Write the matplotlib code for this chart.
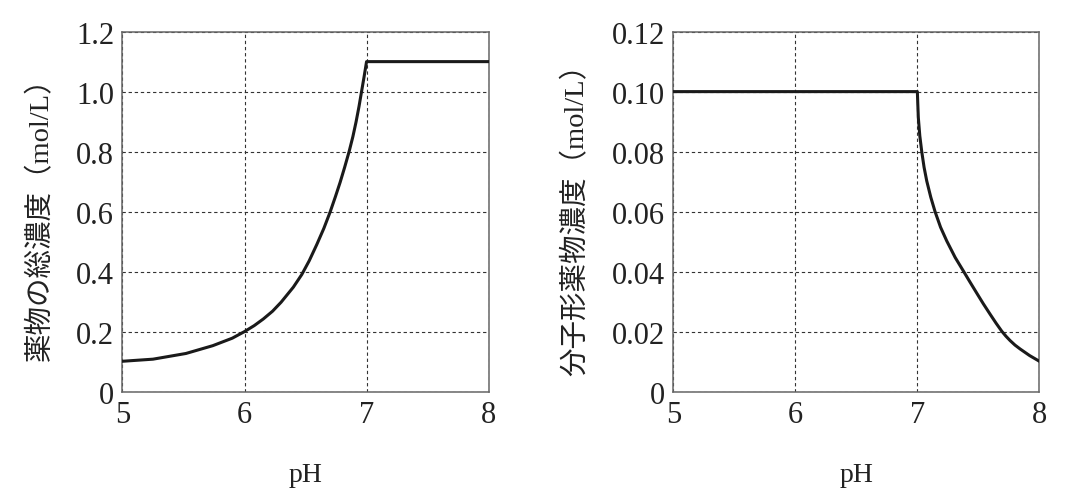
import matplotlib
matplotlib.use("Agg")
import matplotlib.pyplot as plt

# values
ph_ticks = [5, 6, 7, 8]

total_ph = [5.0, 5.25, 5.52, 5.74, 5.9, 6.0, 6.08, 6.154, 6.23, 6.3, 6.4,
            6.469, 6.53, 6.592, 6.65, 6.701, 6.745, 6.783, 6.82, 6.857,
            6.888, 6.914, 6.938, 6.959, 6.98, 7.0, 8.0]
total_conc = [0.101, 0.108, 0.127, 0.153, 0.178, 0.200, 0.220, 0.242, 0.268,
              0.298, 0.348, 0.390, 0.436, 0.490, 0.544, 0.598, 0.650, 0.697,
              0.747, 0.800, 0.850, 0.899, 0.950, 1.000, 1.050, 1.100, 1.100]
total_yticks = [0, 0.2, 0.4, 0.6, 0.8, 1.0, 1.2]
total_ylabels = ["0", "0.2", "0.4", "0.6", "0.8", "1.0", "1.2"]

mol_ph = [5.0, 7.0, 7.004, 7.008, 7.02, 7.036, 7.055, 7.077, 7.11, 7.145,
          7.19, 7.241, 7.31, 7.38, 7.43, 7.487, 7.54, 7.596, 7.645, 7.692,
          7.725, 7.76, 7.80, 7.842, 7.92, 8.0]
mol_conc = [0.100, 0.100, 0.0955, 0.0913, 0.0853, 0.0800, 0.0748, 0.0702,
            0.0648, 0.0600, 0.0548, 0.0502, 0.0447, 0.0400, 0.0366, 0.0328,
            0.0293, 0.0258, 0.0228, 0.0201, 0.0185, 0.0170, 0.0155, 0.0142,
            0.0120, 0.0101]
mol_yticks = [0, 0.02, 0.04, 0.06, 0.08, 0.10, 0.12]
mol_ylabels = ["0", "0.02", "0.04", "0.06", "0.08", "0.10", "0.12"]

serif = ["Liberation Serif", "DejaVu Serif"]
label_fam = ["Liberation Serif", "Noto Sans CJK JP", "DejaVu Sans"]
text_col = "#222222"

fig = plt.figure(figsize=(10.8, 5.02), dpi=100)
ax1 = fig.add_axes([0.1134, 0.218, 0.339, 0.717])
ax2 = fig.add_axes([0.6234, 0.218, 0.339, 0.717])

panels = [
    (ax1, total_ph, total_conc, 1.2, total_yticks, total_ylabels,
     "薬物の総濃度（mol/L）"),
    (ax2, mol_ph, mol_conc, 0.12, mol_yticks, mol_ylabels,
     "分子形薬物濃度（mol/L）"),
]

for ax, xs, ys, ymax, yt, ylab, ytitle in panels:
    ax.plot(xs, ys, color="#1a1a1a", lw=2.2, solid_joinstyle="round", zorder=3)
    ax.set_xlim(5, 8)
    ax.set_ylim(0, ymax)
    ax.set_xticks(ph_ticks)
    ax.set_xticklabels([str(t) for t in ph_ticks], family=serif, fontsize=22,
                       color=text_col)
    ax.set_yticks(yt)
    ax.set_yticklabels(ylab, family=serif, fontsize=22, color=text_col)
    ax.tick_params(length=0, pad=6)
    ax.grid(True, color="#333333", lw=0.8, ls=(0, (3, 2.5)))
    for s in ax.spines.values():
        s.set_color("#666666")
        s.set_linewidth(1.1)
    ax.set_xlabel("pH", family=serif, fontsize=20, color=text_col, labelpad=24)
    ax.set_ylabel(ytitle, family=label_fam, fontsize=20.5, color=text_col,
                  labelpad=16)

fig.savefig("out.png", dpi=100)
